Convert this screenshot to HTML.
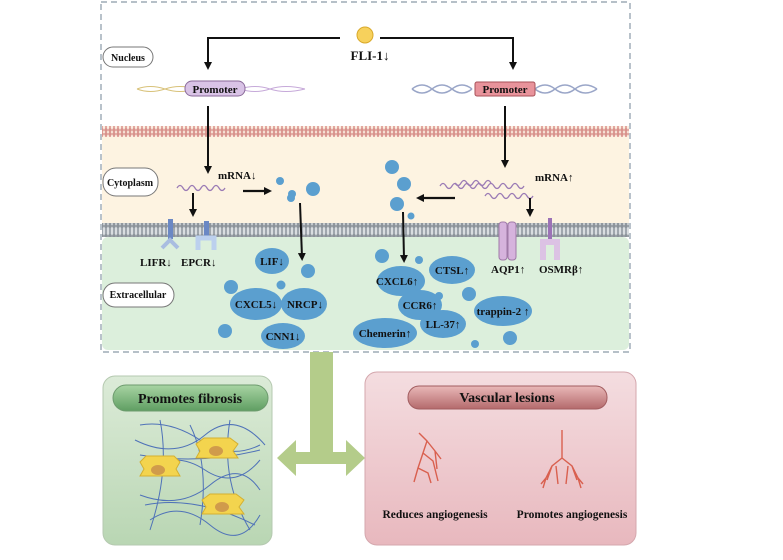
<!DOCTYPE html>
<html><head><meta charset="utf-8"><style>
html,body{margin:0;padding:0;background:#fff}
svg text{font-family:"Liberation Serif",serif;font-weight:bold;fill:#111}
</style></head><body>
<svg width="783" height="555" viewBox="0 0 783 555" xmlns="http://www.w3.org/2000/svg">
<defs>
<marker id="ah" markerWidth="8" markerHeight="8" refX="4" refY="4" orient="auto" markerUnits="userSpaceOnUse"><path d="M0,0 L8,4 L0,8 Z" fill="#111"/></marker>
<linearGradient id="gg" x1="0" y1="0" x2="0" y2="1"><stop offset="0" stop-color="#dcebd8"/><stop offset="1" stop-color="#b9d6b3"/></linearGradient>
<linearGradient id="pg" x1="0" y1="0" x2="0" y2="1"><stop offset="0" stop-color="#f4dde0"/><stop offset="1" stop-color="#e8b8be"/></linearGradient>
<linearGradient id="gh" x1="0" y1="0" x2="0" y2="1"><stop offset="0" stop-color="#a8d4a3"/><stop offset="1" stop-color="#5f9e62"/></linearGradient>
<linearGradient id="ph" x1="0" y1="0" x2="0" y2="1"><stop offset="0" stop-color="#e9b8b8"/><stop offset="1" stop-color="#b46a6c"/></linearGradient>
<pattern id="pm" width="4" height="12" patternUnits="userSpaceOnUse"><rect width="4" height="12" fill="#fbeee0"/><rect x="1" y="0" width="2" height="12" fill="#e2a7a0"/><circle cx="2" cy="2" r="1.8" fill="#d8928c"/><circle cx="2" cy="10" r="1.8" fill="#d8928c"/></pattern>
<pattern id="gm" width="4" height="14" patternUnits="userSpaceOnUse"><rect width="4" height="14" fill="#d9dde0"/><rect x="1" y="0" width="2" height="14" fill="#9fa6ad"/><circle cx="2" cy="2" r="1.9" fill="#8c939a"/><circle cx="2" cy="12" r="1.9" fill="#8c939a"/></pattern>
</defs>
<!-- compartments -->
<rect x="102" y="137" width="527" height="86" fill="#fdf3e1"/>
<rect x="102" y="237" width="527" height="113" fill="#dcefdc" rx="6"/>
<rect x="102" y="126" width="527" height="11" fill="url(#pm)"/>
<rect x="102" y="223" width="527" height="14" fill="url(#gm)"/>
<rect x="101" y="2" width="529" height="350" fill="none" stroke="#8a9aa8" stroke-dasharray="6,4" stroke-width="1.2"/>
<!-- labels -->
<rect x="103" y="47" width="50" height="20" rx="10" fill="#fff" stroke="#777"/>
<text x="128" y="61" font-size="10" text-anchor="middle">Nucleus</text>
<rect x="103" y="168" width="55" height="28" rx="13" fill="#fff" stroke="#777"/>
<text x="130" y="186" font-size="10" text-anchor="middle">Cytoplasm</text>
<rect x="103" y="283" width="71" height="24" rx="12" fill="#fff" stroke="#777"/>
<text x="138" y="298" font-size="10" text-anchor="middle">Extracellular</text>
<!-- FLI-1 -->
<circle cx="365" cy="35" r="8" fill="#f7d15c" stroke="#d9a92a"/>
<text x="370" y="60" font-size="13" text-anchor="middle">FLI-1↓</text>
<path d="M340,38 L208,38 L208,66" fill="none" stroke="#111" stroke-width="2" marker-end="url(#ah)"/>
<path d="M380,38 L513,38 L513,66" fill="none" stroke="#111" stroke-width="2" marker-end="url(#ah)"/>
<!-- DNA left -->
<path d="M137,89 Q150,84 165,89 T195,89 M137,89 Q150,94 165,89 T195,89" stroke="#d8c27a" fill="none"/>
<path d="M240,89 Q255,84 270,89 T305,89 M240,89 Q255,94 270,89 T305,89" stroke="#c6a9d9" fill="none"/>
<rect x="185" y="81" width="60" height="15" rx="7" fill="#d9c3e6" stroke="#8a6a9a"/>
<text x="215" y="93" font-size="11" text-anchor="middle">Promoter</text>
<!-- DNA right -->
<path d="M412,89 Q422,81 432,89 T452,89 T472,89 M412,89 Q422,97 432,89 T452,89 T472,89 M535,89 Q545,81 555,89 T575,89 T597,89 M535,89 Q545,97 555,89 T575,89 T597,89" stroke="#9aa6c8" fill="none" stroke-width="1.5"/>
<rect x="475" y="82" width="60" height="14" rx="2" fill="#e8939b" stroke="#a85058"/>
<text x="505" y="93" font-size="11" text-anchor="middle">Promoter</text>
<!-- arrows down -->
<line x1="208" y1="106" x2="208" y2="170" stroke="#111" stroke-width="2" marker-end="url(#ah)"/>
<line x1="505" y1="106" x2="505" y2="164" stroke="#111" stroke-width="2" marker-end="url(#ah)"/>
<text x="218" y="179" font-size="11">mRNA↓</text>
<text x="535" y="181" font-size="11">mRNA↑</text>
<path d="M177,188 q3,-5 6,0 t6,0 t6,0 t6,0 t6,0 t6,0 t6,0 t6,0" fill="none" stroke="#9b7bb5" stroke-width="1.3"/>
<path d="M440,186 q3,-5 6,0 t6,0 t6,0 t6,0 t6,0 t6,0 t6,0 t6,0 t6,0 t6,0 t6,0 t6,0 t6,0 t6,0 M455,183 q3,5 6,0 t6,0 t6,0 t6,0 t6,0 t6,0 M485,196 q3,-5 6,0 t6,0 t6,0 t6,0 t6,0 t6,0 t6,0 t6,0" fill="none" stroke="#9b7bb5" stroke-width="1.3"/>
<line x1="243" y1="191" x2="268" y2="191" stroke="#111" stroke-width="2.2" marker-end="url(#ah)"/>
<line x1="455" y1="198" x2="420" y2="198" stroke="#111" stroke-width="2.2" marker-end="url(#ah)"/>
<line x1="193" y1="193" x2="193" y2="213" stroke="#111" stroke-width="2" marker-end="url(#ah)"/>
<line x1="530" y1="198" x2="530" y2="213" stroke="#111" stroke-width="2" marker-end="url(#ah)"/>
<line x1="300" y1="203" x2="302" y2="257" stroke="#111" stroke-width="2" marker-end="url(#ah)"/>
<line x1="403" y1="212" x2="404" y2="259" stroke="#111" stroke-width="2" marker-end="url(#ah)"/>
<!-- cytoplasm dots -->
<g fill="#5b9fcf">
<circle cx="280" cy="181" r="4"/><circle cx="292" cy="194" r="4"/><circle cx="313" cy="189" r="7"/><circle cx="291" cy="198" r="4"/>
<circle cx="392" cy="167" r="7"/><circle cx="404" cy="184" r="7"/><circle cx="397" cy="204" r="7"/><circle cx="411" cy="216" r="3.5"/>
</g>
<!-- receptors -->
<g>
<rect x="168" y="219" width="5" height="20" fill="#6b88c4"/><path d="M162,248 L170,240 L178,248" stroke="#a9bde0" stroke-width="4" fill="none"/>
<rect x="204" y="221" width="5" height="16" fill="#6b88c4"/><path d="M198,250 L198,238 L214,238 L214,250" stroke="#bcd0ee" stroke-width="5" fill="none"/>
<rect x="499" y="222" width="8" height="38" rx="3" fill="#d6b3dd" stroke="#a07aa8"/><rect x="508" y="222" width="8" height="38" rx="3" fill="#d6b3dd" stroke="#a07aa8"/>
<rect x="548" y="218" width="4" height="22" fill="#9c72b6"/><path d="M543,260 L543,242 L557,242 L557,260" stroke="#dcc2e4" stroke-width="6" fill="none"/>
</g>
<text x="140" y="266" font-size="11">LIFR↓</text>
<text x="181" y="266" font-size="11">EPCR↓</text>
<text x="491" y="273" font-size="11">AQP1↑</text>
<text x="539" y="273" font-size="11">OSMRβ↑</text>
<!-- extracellular -->
<g fill="#5b9fcf">
<circle cx="308" cy="271" r="7"/><circle cx="281" cy="285" r="4.5"/><circle cx="231" cy="287" r="7"/><circle cx="225" cy="331" r="7"/>
<circle cx="382" cy="256" r="7"/><circle cx="419" cy="260" r="4"/><circle cx="439" cy="296" r="4"/><circle cx="469" cy="294" r="7"/><circle cx="475" cy="344" r="4"/><circle cx="510" cy="338" r="7"/>
<ellipse cx="272" cy="261" rx="17" ry="13"/><ellipse cx="256" cy="304" rx="26" ry="16"/><ellipse cx="304" cy="304" rx="23" ry="16"/><ellipse cx="283" cy="336" rx="22" ry="13"/>
<ellipse cx="401" cy="281" rx="24" ry="15"/><ellipse cx="452" cy="270" rx="23" ry="14"/><ellipse cx="420" cy="305" rx="22" ry="15"/><ellipse cx="443" cy="324" rx="23" ry="14"/><ellipse cx="385" cy="333" rx="32" ry="15"/><ellipse cx="503" cy="311" rx="29" ry="15"/>
</g>
<g font-size="11" text-anchor="middle">
<text x="272" y="265">LIF↓</text><text x="256" y="308">CXCL5↓</text><text x="305" y="308">NRCP↓</text><text x="283" y="340">CNN1↓</text>
<text x="397" y="285">CXCL6↑</text><text x="452" y="274">CTSL↑</text><text x="420" y="309">CCR6↑</text><text x="443" y="328">LL-37↑</text><text x="385" y="337">Chemerin↑</text><text x="503" y="315">trappin-2 ↑</text>
</g>
<!-- big arrow -->
<path d="M310,352 L333,352 L333,452 L346,452 L346,440 L365,458 L346,476 L346,464 L296,464 L296,476 L277,458 L296,440 L296,452 L310,452 Z" fill="#b4cc8a"/>
<!-- left box -->
<rect x="103" y="376" width="169" height="169" rx="12" fill="url(#gg)" stroke="#b5c9b0"/>
<rect x="113" y="385" width="155" height="26" rx="13" fill="url(#gh)" stroke="#6d9b6e"/>
<text x="190" y="403" font-size="14" text-anchor="middle">Promotes fibrosis</text>
<g fill="none" stroke="#4f72b8" stroke-width="1">
<path d="M140,425 q30,-5 60,15 t60,5"/><path d="M135,440 q40,20 70,-5 t60,10"/><path d="M145,470 q30,-20 60,0 t55,-10"/><path d="M140,495 q40,15 70,-10 t50,5"/><path d="M150,520 q30,-20 60,5 t50,-10"/><path d="M160,420 q10,50 -10,110"/><path d="M190,425 q20,40 10,100"/><path d="M230,420 q-10,60 20,110"/><path d="M140,455 q60,10 120,-5"/><path d="M145,505 q50,-10 110,20"/>
</g>
<g fill="#f3d44e" stroke="#d4b030">
<path d="M196,444 l8,-6 h26 l8,6 l-5,7 l5,7 h-42 l4,-7z"/><path d="M140,462 l6,-6 h28 l6,6 l-4,7 l4,7 h-40 l4,-7z"/><path d="M202,500 l8,-6 h26 l8,6 l-5,7 l5,7 h-42 l4,-7z"/>
</g>
<g fill="#d09b4b"><ellipse cx="216" cy="451" rx="7" ry="5"/><ellipse cx="158" cy="470" rx="7" ry="5"/><ellipse cx="222" cy="507" rx="7" ry="5"/></g>
<!-- right box -->
<rect x="365" y="372" width="271" height="173" rx="12" fill="url(#pg)" stroke="#d4a7ad"/>
<rect x="408" y="386" width="199" height="23" rx="11" fill="url(#ph)" stroke="#a25d60"/>
<text x="507" y="402" font-size="14" text-anchor="middle">Vascular lesions</text>
<g fill="none" stroke="#d9604f" stroke-width="1.4">
<path d="M419,433 l8,8 l-4,12 l-5,15 l-4,14 M427,441 l8,10 l2,18 M423,453 l10,8 l5,20 M418,468 l10,5 l3,10 M435,451 l6,8"/>
<path d="M562,430 v28 M562,458 l-10,8 l-6,12 l-3,10 M562,458 l10,8 l6,12 l3,10 M552,466 l-5,14 M572,466 l5,14 M546,478 l-5,6 M578,478 l5,6 M556,466 l2,18 M568,466 l-2,18"/>
</g>
<text x="435" y="518" font-size="11.5" text-anchor="middle">Reduces angiogenesis</text>
<text x="572" y="518" font-size="11.5" text-anchor="middle">Promotes angiogenesis</text>
</svg>
</body></html>
